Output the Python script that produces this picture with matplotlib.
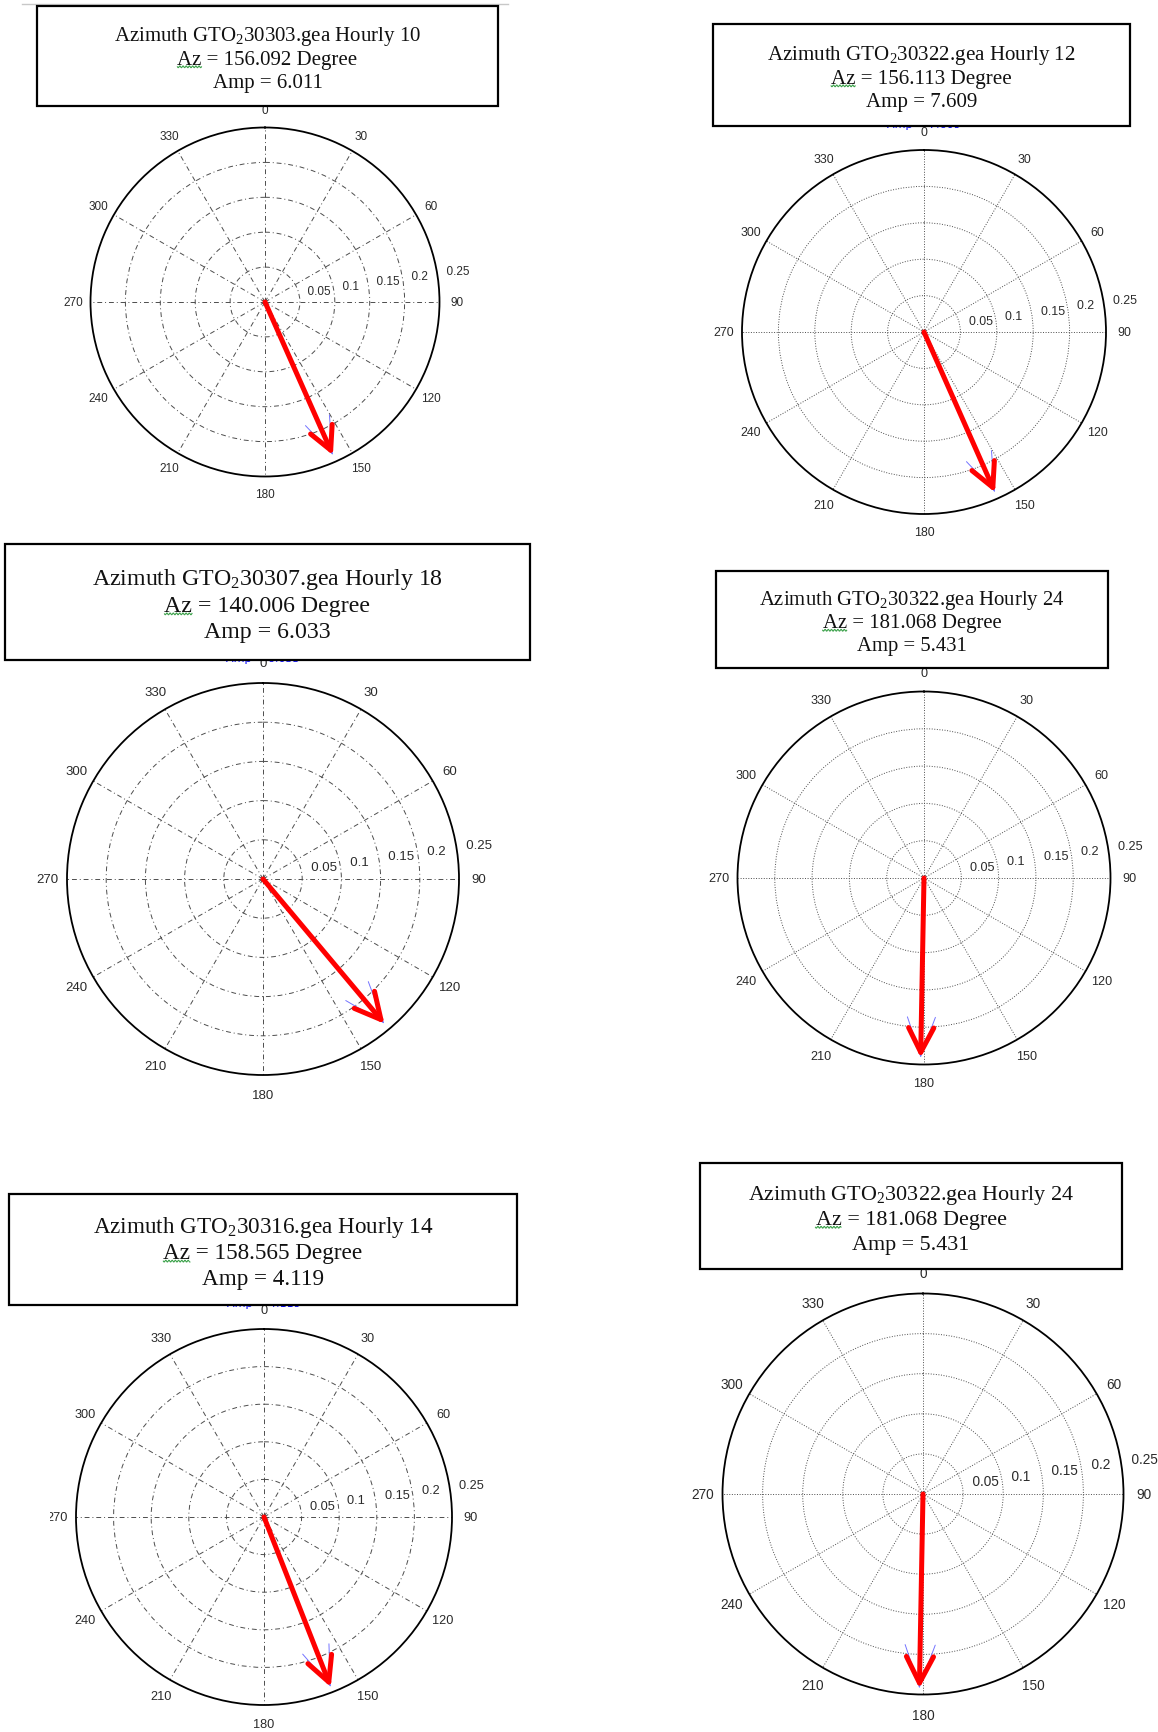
import numpy as np
import matplotlib

matplotlib.use("Agg")
import matplotlib.pyplot as plt
from matplotlib.patches import Rectangle
from matplotlib.lines import Line2D
from matplotlib.transforms import Bbox

plt.rcParams["mathtext.fontset"] = "custom"
plt.rcParams["mathtext.rm"] = "Liberation Serif"
plt.rcParams["mathtext.it"] = "Liberation Serif:italic"

# ---- values ---------------------------------------------------------------
files = ["30303", "30322", "30307", "30322", "30316", "30322"]
hours = [10, 12, 18, 24, 14, 24]
azimuth_deg = [156.092, 156.113, 140.006, 181.068, 158.565, 181.068]
amplitude = [6.011, 7.609, 6.033, 5.431, 4.119, 5.431]
# arrow length on the normalised 0..0.25 compass scale
arrow_len = [0.240, 0.241, 0.241, 0.241, 0.243, 0.2425]
ring_ticks = [0.05, 0.1, 0.15, 0.2, 0.25]
ring_labels = ["0.05", "0.1", "0.15", "0.2", "0.25"]
angle_ticks = list(range(0, 360, 30))
R_MAX = 0.25

# ---- page layout, pixels on the 1158 x 1733 page --------------------------
W, H = 1158, 1733
# caption boxes: left, top, right, bottom
boxes = [(37, 7, 498, 107), (713, 25, 1130, 127), (5, 545, 530, 661),
         (716, 572, 1108, 669), (9, 1195, 517, 1306), (700, 1164, 1122, 1270)]
# compass centre x, centre y, radius
centres = [(265, 303, 174.5), (924, 333, 182), (263, 880, 196),
           (924, 879, 186.5), (264, 1518, 188), (923, 1495, 200.5)]
title_width = [307, 309, 351, 306, 341, 327]   # width of first caption line
DASHDOT = (0, (5, 3, 1, 3))
grid_ls = [DASHDOT, ":", DASHDOT, ":", DASHDOT, ":"]
peek = [False, True, True, False, True, False]  # blue matlab title showing
clip_left = [None, None, None, None, 50, None]  # "270" cut in the scan


def fx(px):
    return px / W


def fy(py):
    return 1 - py / H


fig = plt.figure(figsize=(W / 100, H / 100), dpi=100)
fig.patch.set_facecolor("white")
renderer = fig.canvas.get_renderer()

# faint rule at the top of the scanned page
fig.add_artist(Line2D([fx(22), fx(508)], [fy(5), fy(5)], color="#c8c8c8",
                      lw=1.0, transform=fig.transFigure))

for i in range(6):
    cx, cy, R = centres[i]
    ax = fig.add_axes([fx(cx - R), fy(cy + R), 2 * R / W, 2 * R / H],
                      projection="polar")
    ax.set_theta_zero_location("N")
    ax.set_theta_direction(-1)
    ax.set_ylim(0, R_MAX)
    ax.set_thetagrids(angle_ticks, labels=[""] * len(angle_ticks))
    ax.set_rgrids(ring_ticks[:-1], labels=[""] * (len(ring_ticks) - 1))
    ax.grid(True, color="0.3", lw=0.7, linestyle=grid_ls[i])
    ax.spines["polar"].set_linewidth(1.3)
    ax.spines["polar"].set_color("black")
    ax.tick_params(length=0)

    lab_fs = R / 20.5
    for a in angle_ticks:
        t = ax.text(np.deg2rad(a), R_MAX * 1.1, str(a), ha="center",
                    va="center", fontsize=lab_fs, family="Liberation Sans",
                    color="#2a2a2a", clip_on=False)
        if a == 270 and clip_left[i] is not None:
            t.set_clip_on(True)
            t.set_clip_box(Bbox([[clip_left[i], 0], [W, H]]))
    for v, lab in zip(ring_ticks, ring_labels):
        ax.text(np.deg2rad(82), v + 0.0025, "  " + lab, ha="left",
                va="bottom", fontsize=lab_fs, family="Liberation Sans",
                color="#2a2a2a", clip_on=False)

    th = np.deg2rad(azimuth_deg[i])
    ms = 10 * R / 185
    ax.annotate("", xy=(th, arrow_len[i]), xytext=(th, 0),
                arrowprops=dict(arrowstyle="->,head_length=2.8,head_width=1.0",
                                color="#7373ff", lw=0.7, shrinkA=0, shrinkB=0,
                                mutation_scale=ms),
                annotation_clip=False)
    ax.annotate("", xy=(th, arrow_len[i]), xytext=(th, 0),
                arrowprops=dict(arrowstyle="->,head_length=1.75,head_width=0.9",
                                color="red", lw=3.6, shrinkA=0, shrinkB=0,
                                mutation_scale=ms),
                annotation_clip=False)

    # caption box
    l, t_, r, b = boxes[i]
    fig.add_artist(Rectangle((fx(l), fy(b)), fx(r - l), (b - t_) / H,
                             transform=fig.transFigure, facecolor="white",
                             edgecolor="black", lw=1.6, zorder=3))
    if peek[i]:
        fig.text(fx(cx), fy(b + 1), f"Amp = {amplitude[i]:.3f}", color="blue",
                 fontsize=8, ha="center", va="baseline", zorder=2)

    lines = [f"Azimuth GTO$_\\mathrm{{2}}${files[i]}.gea Hourly {hours[i]}",
             f"Az = {azimuth_deg[i]:.3f} Degree",
             f"Amp = {amplitude[i]:.3f}"]
    probe = fig.text(0, 0, lines[0], fontsize=16, family="Liberation Serif")
    fs = 16 * title_width[i] / probe.get_window_extent(renderer).width
    probe.remove()
    fs_px = fs * 100 / 72
    bx = (l + r) / 2
    by = (t_ + b) / 2
    step = 1.12 * fs_px
    for k, s in enumerate(lines):
        base = by + (k - 1) * step + 0.36 * fs_px
        txt = fig.text(fx(bx), fy(base), s, fontsize=fs,
                       family="Liberation Serif", color="#111111",
                       ha="center", va="baseline", zorder=4)
        if k == 1:
            # green spell-check squiggle under "Az"
            w_line = txt.get_window_extent(renderer).width
            probe = fig.text(0, 0, "Az", fontsize=fs, family="Liberation Serif")
            w_az = probe.get_window_extent(renderer).width
            probe.remove()
            x0 = bx - w_line / 2
            xs = np.arange(x0, x0 + w_az, 0.5)
            ys = base + 3.3 + 0.9 * np.sin((xs - x0) * 2 * np.pi / 3.2)
            fig.add_artist(Line2D(fx(xs), fy(ys), color="#3fa34d", lw=0.8,
                                  transform=fig.transFigure, zorder=5))

fig.savefig("out.png", dpi=100, facecolor="white")
